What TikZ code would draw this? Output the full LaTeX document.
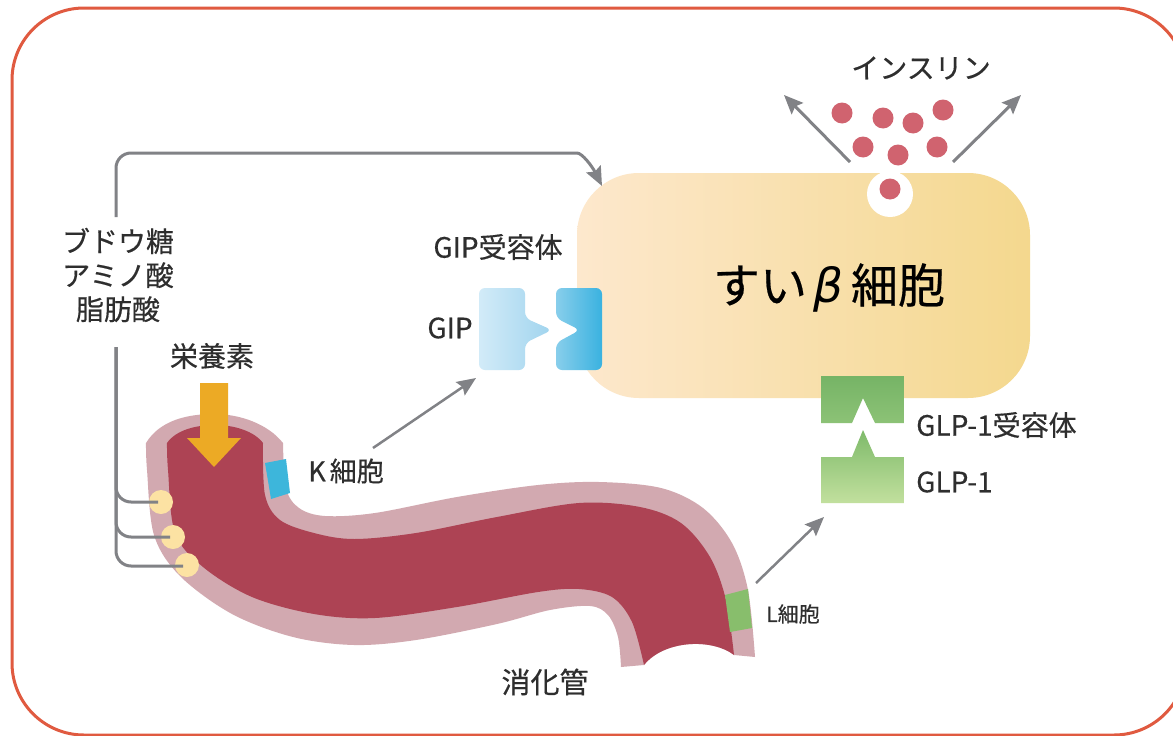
\documentclass[tikz,border=0pt]{standalone}
\usepackage{fontspec}
\setmainfont{Noto Sans CJK JP}[FakeBold=0.45]
\newfontfamily\greekfont{DejaVu Sans}
\usetikzlibrary{arrows.meta}

\definecolor{frame}{HTML}{E05A40}
\definecolor{txt}{HTML}{2E2E2E}
\definecolor{arrowgray}{HTML}{818286}
\definecolor{wall}{HTML}{D2A9B0}
\definecolor{lumen}{HTML}{AD4354}
\definecolor{nutrient}{HTML}{ECAA25}
\definecolor{sensor}{HTML}{FCE2A3}
\definecolor{kcell}{HTML}{3DB6DB}
\definecolor{lcell}{HTML}{88BE6C}
\definecolor{insulin}{HTML}{D0636F}
\definecolor{cellL}{HTML}{FDE8CD}
\definecolor{cellR}{HTML}{F4D88E}
\definecolor{gipL}{RGB}{210,235,248}
\definecolor{gipR}{RGB}{160,212,238}
\definecolor{recL}{RGB}{136,206,235}
\definecolor{recR}{RGB}{58,178,224}

\begin{document}
\begin{tikzpicture}[x=1pt,y=-1pt,
  lbl/.style={text=txt, inner sep=0pt, font=\fontsize{28}{34}\selectfont},
  conn/.style={draw=arrowgray, line width=3pt},
  head/.style={-{Stealth[length=19pt,width=16pt,inset=3pt]}},
]
\useasboundingbox (0,0) rectangle (1173,736);
\fill[white] (0,0) rectangle (1173,736);

% outer frame
\draw[frame, line width=3pt, rounded corners=72pt] (12,8) rectangle (1186,735);

% ---------- beta cell ----------
\shade[left color=cellL, right color=cellR, rounded corners=62pt]
  (577,173) rectangle (1030,398);
\fill[white] (890,194) circle[radius=23];
\node[text=black, inner sep=0pt, font=\fontsize{47}{52}\selectfont] (beta) at (829,288)
  {すい\hspace{6pt}{\greekfont\itshape β}\hspace{8pt}細胞};

% insulin granules
\foreach \p in {(842,113),(883,118),(913,123),(943,110),(863,147),(898,155),(937,147),(890,189)}
  \fill[insulin] \p circle[radius=10.5];
\node[lbl] (ins) at (921,68) {インスリン};
\coordinate (relL) at (850,162);
\coordinate (outL) at (784,95);
\coordinate (relR) at (953,162);
\coordinate (outR) at (1021,95);
\draw[conn, head] (relL) -- (outL);
\draw[conn, head] (relR) -- (outR);

% ---------- GIP and its receptor ----------
\shade[left color=gipL, right color=gipR, rounded corners=6pt]
  (479,288) -- (525,288) -- (525,318) -- (552,330) -- (525,343) -- (525,370) -- (479,370) -- cycle;
\shade[left color=recL, right color=recR, rounded corners=6pt]
  (556,288) -- (602,288) -- (602,370) -- (556,370) -- (556,343) -- (580,330) -- (556,318) -- cycle;
\node[lbl] (gipr) at (498,247) {GIP受容体};
\node[lbl] (gip) at (450,328) {GIP};

% ---------- GLP-1 and its receptor ----------
\shade[top color={rgb,255:red,118;green,180;blue,102}, bottom color={rgb,255:red,140;green,194;blue,118}]
  (821,376) -- (904,376) -- (904,423) -- (875,423) -- (863,398) -- (852,423) -- (821,423) -- cycle;
\shade[top color={rgb,255:red,126;green,186;blue,106}, bottom color={rgb,255:red,194;green,224;blue,158}]
  (821,457) -- (852,457) -- (863,430) -- (875,457) -- (904,457) -- (904,503) -- (821,503) -- cycle;
\node[lbl, anchor=west] (glpr) at (916,425) {GLP-1受容体};
\node[lbl, anchor=west] (glp) at (916,482) {GLP-1};

% ---------- digestive tract ----------
\fill[wall]
  (146,443) .. controls (160,420) and (188,414) .. (214,414)
            .. controls (240,414) and (268,424) .. (283,443)
  -- plot[smooth, tension=0.55] coordinates {(283,443) (286,488) (299,508) (325,516) (375,513)
       (457,497) (538,485) (599,482) (661,488) (703,508) (732,543) (748,590) (755,657)}
  -- (734,655) .. controls (712,638) and (664,640) .. (644,665)
  -- (621,667)
  -- plot[smooth, tension=0.55] coordinates {(621,667) (618,637) (608,615) (590,606) (550,610)
       (497,624) (416,640) (354,645) (293,637) (232,614) (180,576) (154,535) (147,470) (146,443)}
  -- cycle;
\fill[lumen]
  (167,443) .. controls (176,430) and (196,425) .. (215,425)
            .. controls (234,425) and (254,431) .. (263,443)
  -- plot[smooth, tension=0.55] coordinates {(263,443) (265,495) (280,520) (314,533) (354,539)
       (416,533) (497,517) (579,503) (640,507) (681,523) (710,557) (726,600) (734,655)}
  .. controls (712,638) and (664,640) .. (644,665)
  -- plot[smooth, tension=0.55] coordinates {(644,665) (632,622) (612,597) (579,589) (538,592)
       (457,607) (375,618) (314,614) (252,597) (203,567) (175,533) (168,470) (167,443)}
  -- cycle;

% enteroendocrine cells in the wall
\fill[kcell] (265,463) -- (286,459) -- (290,493) -- (271,499) -- cycle;
\fill[lcell] (725,595) -- (748,589) -- (752,628) -- (730,632) -- cycle;

% nutrient sensors
\fill[sensor] (161,502) circle[radius=12];
\fill[sensor] (173,537) circle[radius=12];
\fill[sensor] (187,565) circle[radius=12];

% nutrient arrow into the lumen
\fill[nutrient] (200,383) -- (228,383) -- (228,438) -- (241,438) -- (214,467)
  -- (187,438) -- (200,438) -- cycle;
\node[lbl] (eiyo) at (212,356) {栄養素};

% labels on the tract
\node[lbl, font=\fontsize{27}{30}\selectfont] (klbl) at (346,471) {K\hspace{4pt}細胞};
\node[lbl, font=\fontsize{21}{24}\selectfont] (llbl) at (793,614) {L細胞};
\node[lbl, font=\fontsize{29}{32}\selectfont] (shoka) at (545,682) {消化管};

% ---------- nutrient signalling lines ----------
\node[lbl, align=center] (nutr) at (118,275) {ブドウ糖\\アミノ酸\\脂肪酸};
\coordinate (upStart) at (116,217);
\coordinate (cellTop) at (602,186);
\draw[conn, head] (upStart) [rounded corners=15pt] -- (116,153) -- (562,153) [sharp corners]
  .. controls (582,153) and (592,166) .. (cellTop);
\coordinate (dnStart) at (116,347);
\coordinate (s1) at (158,502);
\coordinate (s2) at (170,537);
\coordinate (s3) at (183,566);
\draw[conn, rounded corners=15pt] (dnStart) |- (s1);
\draw[conn, rounded corners=15pt] (dnStart) |- (s2);
\draw[conn, rounded corners=15pt] (dnStart) |- (s3);

% hormone release arrows
\coordinate (kFrom) at (373,448);
\coordinate (kTo) at (476,378);
\coordinate (lFrom) at (756,583);
\coordinate (lTo) at (824,517);
\draw[conn, line width=2.5pt, head] (kFrom) -- (kTo);
\draw[conn, line width=2.5pt, head] (lFrom) -- (lTo);
\end{tikzpicture}
\end{document}
